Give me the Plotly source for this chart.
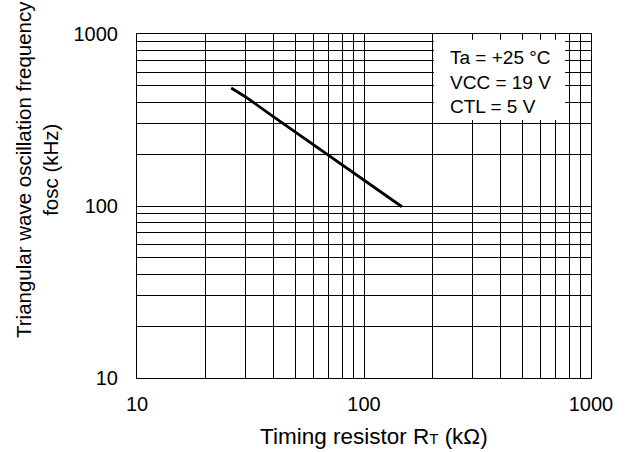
import plotly.graph_objects as go

rt_kohm = [26, 30, 40, 50, 70, 100, 147]
fosc_khz = [485, 432, 330, 268, 197, 142, 99]

grid_vals = [m * 10 ** e for e in (1, 2) for m in range(1, 10)] + [1000]
decade_labels = {10: "10", 100: "100", 1000: "1000"}
tick_text = [decade_labels.get(v, "") for v in grid_vals]

cond_lines = ["Ta = +25 °C", "VCC = 19 V", "CTL = 5 V"]
x_title = 'Timing resistor R<span style="font-size:15px">T</span> (kΩ)'
y_title = "Triangular wave oscillation frequency<br>fosc (kHz)"

FONT = "Liberation Sans, Arial"

fig = go.Figure()
fig.add_trace(go.Scatter(x=rt_kohm, y=fosc_khz, mode="lines",
                         line=dict(color="black", width=2.8), showlegend=False))

axis_common = dict(type="log", tickvals=grid_vals, ticktext=tick_text,
                   showgrid=True, gridcolor="black", gridwidth=1,
                   showline=True, linecolor="black", linewidth=1, mirror=True,
                   ticks="", zeroline=False,
                   tickfont=dict(family=FONT, size=20, color="black"))

fig.update_xaxes(range=[1, 3], ticklabelstandoff=8, **axis_common)
fig.update_yaxes(range=[1, 3], ticklabelstandoff=14, **axis_common)

fig.add_annotation(xref="paper", yref="paper", x=0.522, y=-0.1715, xanchor="center", yanchor="middle",
                   text=x_title, showarrow=False,
                   font=dict(family=FONT, size=22.5, color="black"))
fig.add_annotation(xref="paper", yref="paper", x=-0.220, y=0.605, xanchor="center", yanchor="middle",
                   text=y_title, showarrow=False, textangle=-90,
                   font=dict(family=FONT, size=20.5, color="black"))

fig.add_shape(type="rect", xref="paper", yref="paper", x0=0.654, x1=0.943, y0=0.75, y1=0.983,
              fillcolor="white", line=dict(width=0), layer="above")
for txt, yy in zip(cond_lines, [0.933, 0.860, 0.788]):
    fig.add_annotation(xref="paper", yref="paper", x=0.685, y=yy, xanchor="left", yanchor="middle",
                       text=txt, align="left", showarrow=False,
                       font=dict(family=FONT, size=19, color="black"))

fig.update_layout(width=626, height=452, margin=dict(l=137, r=35, t=34, b=74),
                  plot_bgcolor="white", paper_bgcolor="white")
fig.write_html("out.html")
